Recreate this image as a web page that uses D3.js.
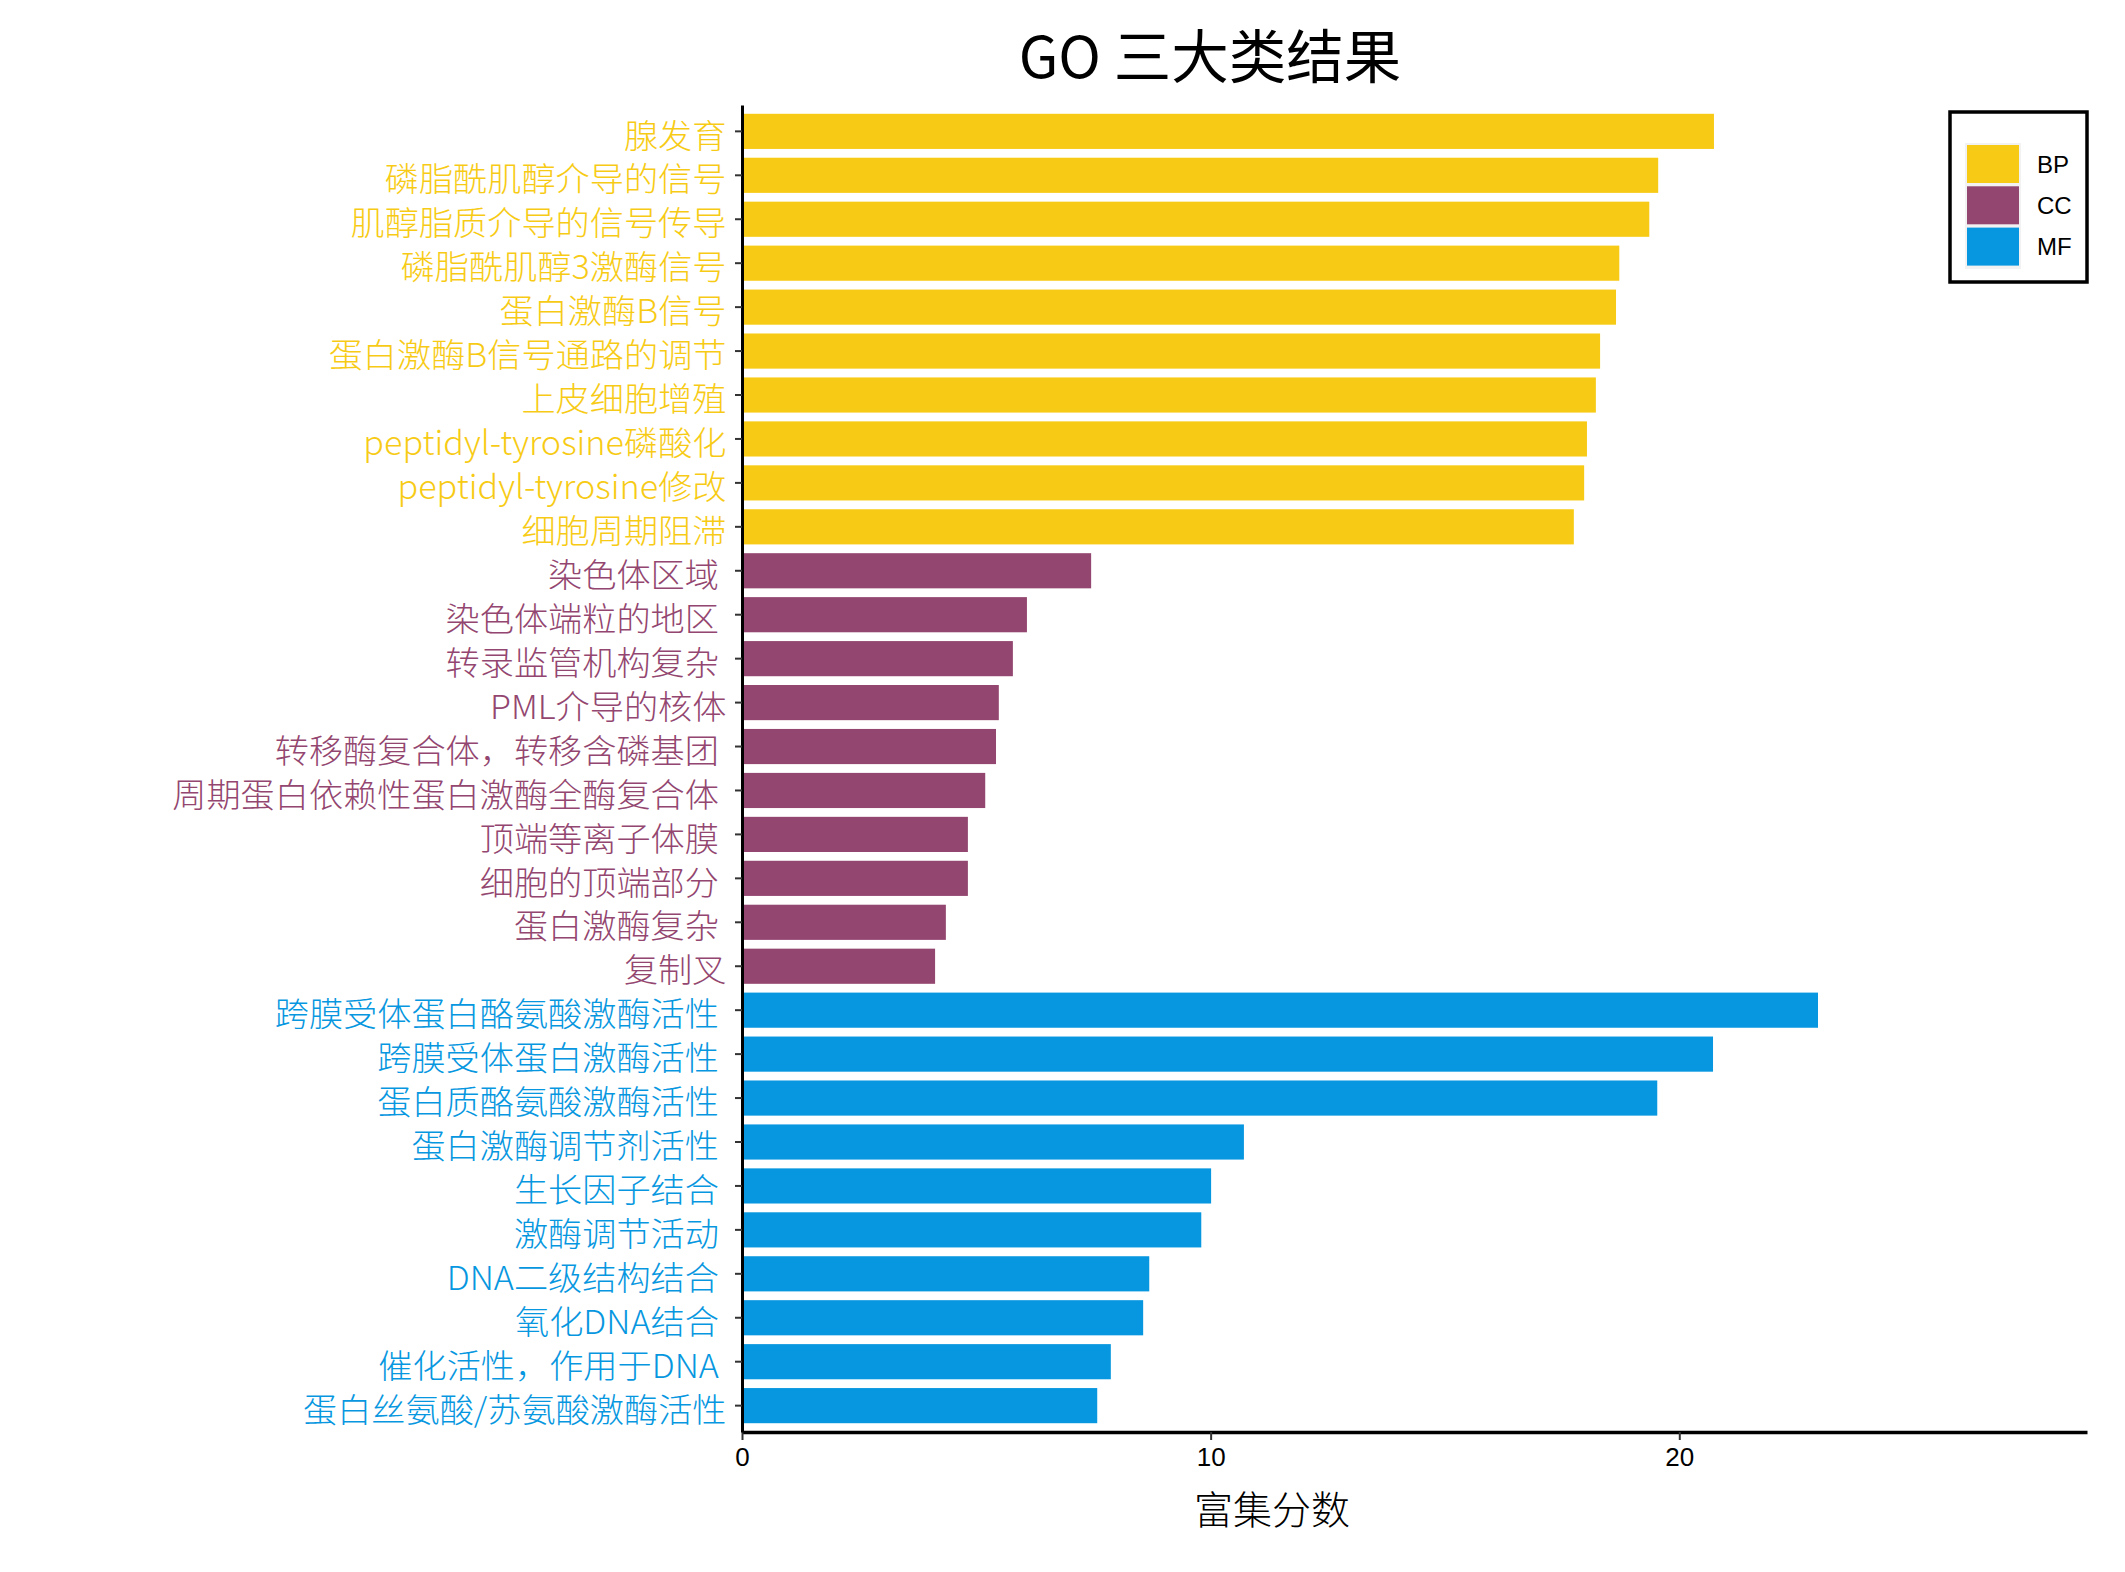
<!DOCTYPE html>
<html>
<head>
<meta charset="utf-8">
<script src="https://cdn.jsdelivr.net/npm/d3@7/dist/d3.min.js"></script>
<style>
  body { margin: 0; background: #fff; }
  text { white-space: pre; }
</style>
</head>
<body>
<div id="chart"></div>
<script>
// GO terms per class, top to bottom (trailing spaces kept as in the source labels)
const bpTerms = ['腺发育', '磷脂酰肌醇介导的信号', '肌醇脂质介导的信号传导', '磷脂酰肌醇3激酶信号',
  '蛋白激酶B信号', '蛋白激酶B信号通路的调节', '上皮细胞增殖', 'peptidyl-tyrosine磷酸化',
  'peptidyl-tyrosine修改', '细胞周期阻滞'];
const bpScores = [20.74, 19.55, 19.36, 18.72, 18.65, 18.31, 18.22, 18.03, 17.97, 17.75];

const ccTerms = ['染色体区域 ', '染色体端粒的地区 ', '转录监管机构复杂 ', 'PML介导的核体',
  '转移酶复合体，转移含磷基团 ', '周期蛋白依赖性蛋白激酶全酶复合体 ', '顶端等离子体膜 ',
  '细胞的顶端部分 ', '蛋白激酶复杂 ', '复制叉'];
const ccScores = [7.45, 6.08, 5.78, 5.48, 5.42, 5.19, 4.82, 4.82, 4.35, 4.12];

const mfTerms = ['跨膜受体蛋白酪氨酸激酶活性 ', '跨膜受体蛋白激酶活性 ', '蛋白质酪氨酸激酶活性 ',
  '蛋白激酶调节剂活性 ', '生长因子结合 ', '激酶调节活动 ', 'DNA二级结构结合 ', '氧化DNA结合 ',
  '催化活性，作用于DNA ', '蛋白丝氨酸/苏氨酸激酶活性'];
const mfScores = [22.96, 20.72, 19.53, 10.71, 10.01, 9.80, 8.69, 8.56, 7.87, 7.58];

const classes = ['BP', 'CC', 'MF'];
const classColors = ['#F7CB15', '#93466F', '#0797E0'];
const xTicks = [0, 10, 20];

const rows = [
  ...bpTerms.map((t, i) => ({ term: t, score: bpScores[i], cls: 'BP' })),
  ...ccTerms.map((t, i) => ({ term: t, score: ccScores[i], cls: 'CC' })),
  ...mfTerms.map((t, i) => ({ term: t, score: mfScores[i], cls: 'MF' }))
];

const width = 2125;
const height = 1572;
const margin = { top: 105, right: 38, bottom: 140, left: 742 };
const cjk = '"Noto Sans CJK SC", "Noto Sans", sans-serif';
const latin = '"Liberation Sans", Arial, sans-serif';

const svg = d3.select('#chart')
  .append('svg')
  .attr('width', width)
  .attr('height', height);

svg.append('rect').attr('width', width).attr('height', height).attr('fill', '#fff');

const color = d3.scaleOrdinal().domain(classes).range(classColors);

const maxScore = d3.max(rows, (d) => d.score);
const x = d3.scaleLinear()
  .domain([0, maxScore * 1.25])
  .range([margin.left, width - margin.right]);

const axisY = height - margin.bottom;

const y = d3.scaleBand()
  .domain(rows.map((d) => d.term))
  .range([margin.top, axisY])
  .paddingInner(0.2)
  .paddingOuter(0.2);

// bars
svg.append('g')
  .selectAll('rect')
  .data(rows)
  .join('rect')
  .attr('x', x(0))
  .attr('y', (d) => y(d.term))
  .attr('width', (d) => x(d.score) - x(0))
  .attr('height', y.bandwidth())
  .attr('fill', (d) => color(d.cls));

// x axis
const xAxis = svg.append('g')
  .attr('transform', `translate(0, ${axisY})`)
  .call(d3.axisBottom(x).tickValues(xTicks).tickSize(8).tickSizeOuter(0).tickPadding(8));
xAxis.select('.domain').attr('stroke', '#000').attr('stroke-width', 3.5);
xAxis.selectAll('.tick line').attr('stroke', '#333').attr('stroke-width', 2);
xAxis.selectAll('.tick text')
  .attr('font-family', latin)
  .attr('font-size', 26)
  .attr('fill', '#000');

// y axis
const yAxis = svg.append('g')
  .attr('transform', `translate(${x(0)}, 0)`)
  .call(d3.axisLeft(y).tickSize(7).tickSizeOuter(0).tickPadding(8));
yAxis.select('.domain').attr('stroke', '#000').attr('stroke-width', 3);
yAxis.selectAll('.tick line').attr('stroke', '#333').attr('stroke-width', 2);
yAxis.selectAll('.tick text')
  .attr('font-family', cjk)
  .attr('font-weight', 300)
  .attr('font-size', 33)
  .attr('dy', '0.49em')
  .attr('transform', 'scale(1.036, 1)')
  .attr('fill', (d) => color(rows.find((r) => r.term === d).cls));

// title
svg.append('text')
  .attr('x', 1210)
  .attr('y', 78)
  .attr('text-anchor', 'middle')
  .attr('font-family', cjk)
  .attr('font-size', 57.5)
  .attr('fill', '#000')
  .text('GO 三大类结果');

// x axis title
svg.append('text')
  .attr('x', 1272)
  .attr('y', 1524)
  .attr('text-anchor', 'middle')
  .attr('font-family', cjk)
  .attr('font-weight', 300)
  .attr('font-size', 39)
  .attr('fill', '#000')
  .text('富集分数');

// legend
const legend = svg.append('g').attr('transform', 'translate(1950, 112)');
legend.append('rect')
  .attr('width', 137)
  .attr('height', 170)
  .attr('fill', '#fff')
  .attr('stroke', '#000')
  .attr('stroke-width', 3.5);
legend.append('rect')
  .attr('x', 15)
  .attr('y', 31)
  .attr('width', 56)
  .attr('height', 126)
  .attr('fill', '#F2F2F2');
const keys = legend.selectAll('g.key')
  .data(classes)
  .join('g')
  .attr('class', 'key')
  .attr('transform', (d, i) => `translate(17, ${33 + i * 41.3})`);
keys.append('rect')
  .attr('width', 52)
  .attr('height', 38)
  .attr('fill', (d) => color(d));
keys.append('text')
  .attr('x', 70)
  .attr('y', 19)
  .attr('dy', '0.36em')
  .attr('font-family', latin)
  .attr('font-size', 24)
  .attr('fill', '#000')
  .text((d) => d);
</script>
</body>
</html>
